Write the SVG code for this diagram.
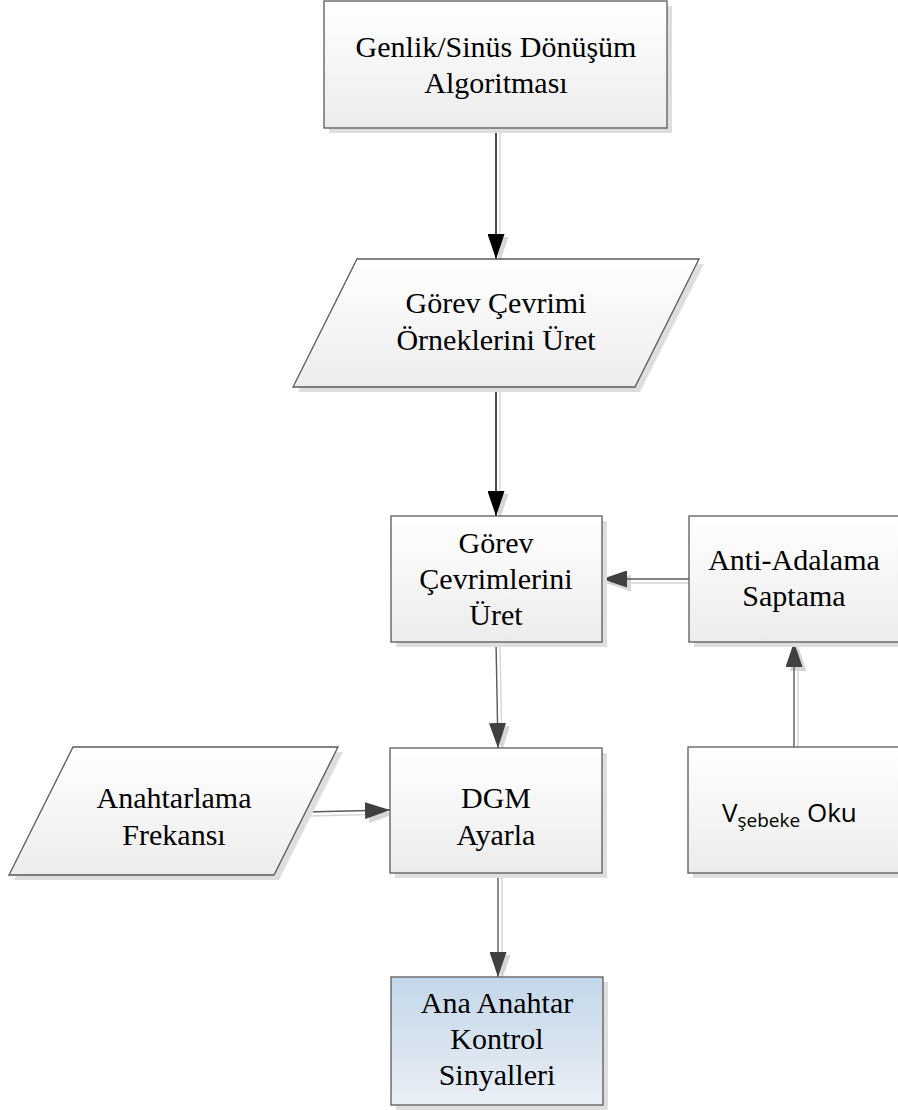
<svg xmlns="http://www.w3.org/2000/svg" width="898" height="1110" viewBox="0 0 898 1110">
  <defs>
    <linearGradient id="gFill" x1="0" y1="0" x2="0" y2="1">
      <stop offset="0" stop-color="#ffffff"/>
      <stop offset="1" stop-color="#ececec"/>
    </linearGradient>
    <linearGradient id="gBlue" x1="0" y1="0" x2="0" y2="1">
      <stop offset="0" stop-color="#c3d7e9"/>
      <stop offset="1" stop-color="#eaeff6"/>
    </linearGradient>
    <marker id="ahDark" viewBox="0 0 25 17" refX="25" refY="8.5" markerWidth="25" markerHeight="17" markerUnits="userSpaceOnUse" orient="auto">
      <path d="M0,0 L25,8.5 L0,17 Z" fill="#404040"/>
    </marker>
    <marker id="ahBlack" viewBox="0 0 25 17" refX="25" refY="8.5" markerWidth="25" markerHeight="17" markerUnits="userSpaceOnUse" orient="auto">
      <path d="M0,0 L25,8.5 L0,17 Z" fill="#000000"/>
    </marker>
    <marker id="ahShadow" viewBox="0 0 25 17" refX="25" refY="8.5" markerWidth="25" markerHeight="17" markerUnits="userSpaceOnUse" orient="auto">
      <path d="M0,0 L25,8.5 L0,17 Z" fill="#d6d6d6"/>
    </marker>
  </defs>
  <style>
    .shadow { fill: #dedede; stroke: none; }
    .box { fill: url(#gFill); stroke: #5a5a5a; stroke-width: 1.3; }
    .blue { fill: url(#gBlue); stroke: #5a5a5a; stroke-width: 1.3; }
    .lbl { font-family: "Liberation Serif", "Times New Roman", serif; font-size: 30px; fill: #000000; text-anchor: middle; }
    .sans { font-family: "Open Sans", "Noto Sans", "DejaVu Sans", sans-serif; fill: #000000; }
    .conn { fill: none; stroke: #595959; stroke-width: 1.4; }
    .connB { fill: none; stroke: #000000; stroke-width: 1.4; }
    .connS { fill: none; stroke: #d6d6d6; stroke-width: 1.4; }
  </style>

  <!-- connectors, drawn first so the shapes sit on top of the line ends -->
  <g id="connectors">
    <g id="connector-shadows">
      <path class="connS" d="M500,130 L500,262" marker-end="url(#ahShadow)"/>
      <path class="connS" d="M500,389 L500,519" marker-end="url(#ahShadow)"/>
      <path class="connS" d="M689,583 L606,583" marker-end="url(#ahShadow)"/>
      <path class="connS" d="M500,644 L502,751" marker-end="url(#ahShadow)"/>
      <path class="connS" d="M309,816 L394,814" marker-end="url(#ahShadow)"/>
      <path class="connS" d="M798,747 L798,646" marker-end="url(#ahShadow)"/>
      <path class="connS" d="M502,875 L502,980" marker-end="url(#ahShadow)"/>
    </g>
    <path class="connB" d="M496,128 L496,259" marker-end="url(#ahBlack)"/>
    <path class="connB" d="M496,387 L496,516" marker-end="url(#ahBlack)"/>
    <path class="conn" d="M689,579 L602,579" marker-end="url(#ahDark)"/>
    <path class="conn" d="M496,642 L498,748" marker-end="url(#ahDark)"/>
    <path class="conn" d="M306,812 L390,810" marker-end="url(#ahDark)"/>
    <path class="conn" d="M794,747 L794,642" marker-end="url(#ahDark)"/>
    <path class="conn" d="M498,873 L498,977" marker-end="url(#ahDark)"/>
  </g>

  <g id="genlik-sinus">
    <rect class="shadow" x="329" y="6" width="343" height="127"/>
    <rect class="box" x="324" y="1" width="343" height="127"/>
    <text class="lbl" x="496" y="57">Genlik/Sinüs Dönüşüm</text>
    <text class="lbl" x="496" y="93">Algoritması</text>
  </g>

  <g id="gorev-cevrimi-ornekleri">
    <polygon class="shadow" points="362,264 704,264 640,392 298,392"/>
    <polygon class="box" points="357,259 699,259 635,387 293,387"/>
    <text class="lbl" x="496" y="313">Görev Çevrimi</text>
    <text class="lbl" x="496" y="350">Örneklerini Üret</text>
  </g>

  <g id="gorev-cevrimleri">
    <rect class="shadow" x="396" y="521" width="211" height="126"/>
    <rect class="box" x="391" y="516" width="211" height="126"/>
    <text class="lbl" x="496" y="553">Görev</text>
    <text class="lbl" x="496" y="589">Çevrimlerini</text>
    <text class="lbl" x="496" y="625">Üret</text>
  </g>

  <g id="anti-adalama">
    <rect class="shadow" x="694" y="521" width="211" height="126"/>
    <rect class="box" x="689" y="516" width="211" height="126"/>
    <text class="lbl" x="794" y="570">Anti-Adalama</text>
    <text class="lbl" x="794" y="606">Saptama</text>
  </g>

  <g id="anahtarlama-frekansi">
    <polygon class="shadow" points="78,752 343,752 279,880 14,880"/>
    <polygon class="box" points="73,747 338,747 274,875 9,875"/>
    <text class="lbl" x="174" y="808">Anahtarlama</text>
    <text class="lbl" x="174" y="845">Frekansı</text>
  </g>

  <g id="dgm-ayarla">
    <rect class="shadow" x="395" y="753" width="212" height="125"/>
    <rect class="box" x="390" y="748" width="212" height="125"/>
    <text class="lbl" x="496" y="808">DGM</text>
    <text class="lbl" x="496" y="845">Ayarla</text>
  </g>

  <g id="vsebeke-oku">
    <rect class="shadow" x="693" y="752" width="212" height="126"/>
    <rect class="box" x="688" y="747" width="212" height="126"/>
    <text class="sans" x="722" y="822" font-size="26">V<tspan font-size="19" dy="5">şebeke</tspan><tspan dy="-5"> Oku</tspan></text>
  </g>

  <g id="ana-anahtar-kontrol">
    <rect class="shadow" x="396" y="982" width="212" height="128"/>
    <rect class="blue" x="391" y="977" width="212" height="128"/>
    <text class="lbl" x="497" y="1013">Ana Anahtar</text>
    <text class="lbl" x="497" y="1049">Kontrol</text>
    <text class="lbl" x="497" y="1085">Sinyalleri</text>
  </g>
</svg>
